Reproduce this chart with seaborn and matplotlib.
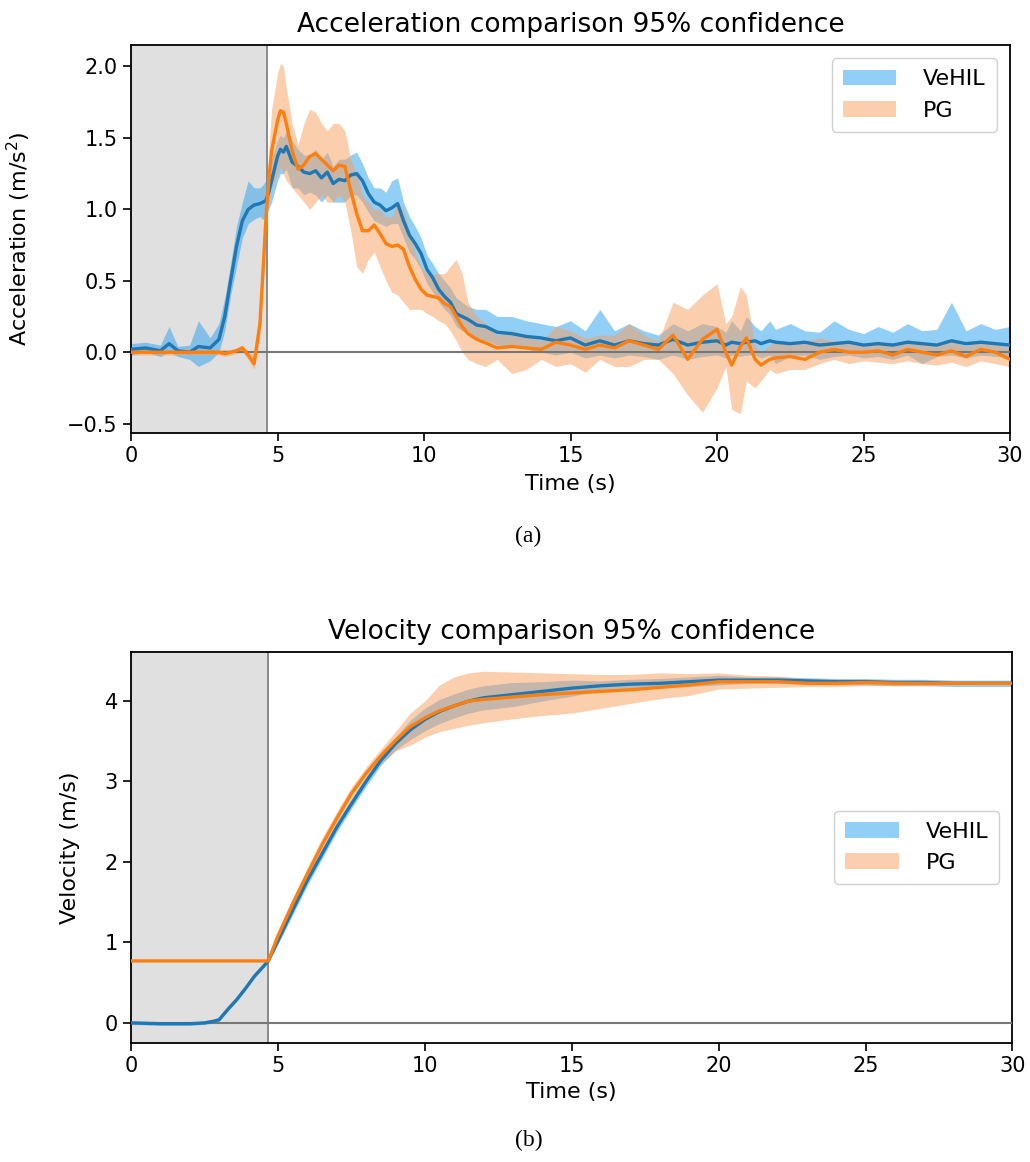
import numpy as np
import pandas as pd
import matplotlib
matplotlib.use("Agg")
import matplotlib.pyplot as plt
from matplotlib.patches import Patch
import seaborn as sns

# ---------------- Acceleration data ----------------
t_acc = [0, 0.5, 1.0, 1.3, 1.6, 2.0, 2.3, 2.7, 3.0, 3.2, 3.4, 3.6, 3.8, 4.0, 4.2, 4.4, 4.5, 4.6, 4.7, 4.8,
         5.0, 5.1, 5.2, 5.3, 5.5, 5.7, 5.9, 6.1, 6.3, 6.5, 6.7, 6.9, 7.1, 7.3, 7.5, 7.7, 7.9, 8.1, 8.3, 8.5,
         8.7, 8.9, 9.1, 9.3, 9.5, 9.7, 9.9, 10.1, 10.3, 10.5, 10.7, 10.9, 11.1, 11.3, 11.5, 11.8, 12.1, 12.5, 13.0, 13.5,
         14.0, 14.5, 15.0, 15.5, 16.0, 16.5, 17.0, 17.5, 18.0, 18.5, 19.0, 19.5, 20.0, 20.3, 20.5, 20.8, 21.0, 21.3, 21.5, 21.8,
         22.0, 22.5, 23.0, 23.5, 24.0, 24.5, 25.0, 25.5, 26.0, 26.5, 27.0, 27.5, 28.0, 28.5, 29.0, 29.5, 30.0]

acc_vehil = [0.02, 0.03, 0.01, 0.06, 0.01, 0.00, 0.04, 0.03, 0.09, 0.25, 0.50, 0.74, 0.92, 1.00, 1.03, 1.04, 1.05, 1.06, 1.12, 1.20,
             1.37, 1.42, 1.40, 1.44, 1.33, 1.30, 1.26, 1.25, 1.27, 1.22, 1.26, 1.18, 1.21, 1.20, 1.24, 1.25, 1.20, 1.11, 1.05, 1.03,
             0.99, 1.01, 1.04, 0.92, 0.82, 0.76, 0.69, 0.58, 0.52, 0.44, 0.39, 0.35, 0.27, 0.25, 0.23, 0.19, 0.18, 0.14, 0.13, 0.11,
             0.10, 0.08, 0.10, 0.05, 0.08, 0.05, 0.08, 0.06, 0.05, 0.09, 0.05, 0.07, 0.08, 0.05, 0.07, 0.06, 0.07, 0.08, 0.06, 0.08,
             0.07, 0.06, 0.07, 0.05, 0.06, 0.07, 0.05, 0.06, 0.05, 0.07, 0.06, 0.05, 0.08, 0.06, 0.07, 0.06, 0.05]
acc_vehil_lo = [-0.02, 0.00, -0.03, 0.00, -0.03, -0.05, -0.10, -0.06, 0.00, 0.15, 0.40, 0.60, 0.80, 0.90, 0.93, 0.95, 0.93, 0.95, 1.00, 1.05,
                1.20, 1.25, 1.25, 1.28, 1.15, 1.15, 1.10, 1.12, 1.10, 1.05, 1.10, 1.05, 1.05, 1.05, 1.10, 1.10, 1.05, 0.98, 0.92, 0.90,
                0.88, 0.90, 0.90, 0.80, 0.70, 0.65, 0.58, 0.48, 0.42, 0.35, 0.30, 0.26, 0.18, 0.15, 0.13, 0.10, 0.08, 0.05, 0.04, 0.02,
                0.00, -0.02, 0.00, -0.04, -0.02, -0.04, -0.02, -0.03, -0.05, -0.02, -0.05, -0.03, -0.02, -0.04, -0.02, -0.03, -0.02, -0.02, -0.04, -0.02,
                -0.08, -0.03, -0.02, -0.05, -0.03, -0.02, -0.04, -0.03, -0.05, -0.02, -0.08, -0.03, -0.02, -0.04, -0.02, -0.03, -0.04]
acc_vehil_hi = [0.06, 0.07, 0.05, 0.18, 0.04, 0.05, 0.22, 0.10, 0.20, 0.38, 0.62, 0.88, 1.05, 1.20, 1.15, 1.15, 1.17, 1.20, 1.25, 1.35,
                1.48, 1.52, 1.50, 1.55, 1.48, 1.42, 1.38, 1.38, 1.42, 1.35, 1.40, 1.30, 1.35, 1.35, 1.38, 1.40, 1.32, 1.22, 1.15, 1.15,
                1.12, 1.20, 1.22, 1.05, 0.95, 0.88, 0.80, 0.68, 0.62, 0.55, 0.50, 0.45, 0.38, 0.35, 0.32, 0.30, 0.30, 0.25, 0.25, 0.22,
                0.20, 0.18, 0.22, 0.15, 0.30, 0.15, 0.20, 0.15, 0.12, 0.20, 0.15, 0.20, 0.18, 0.14, 0.22, 0.15, 0.25, 0.18, 0.15, 0.22,
                0.16, 0.20, 0.15, 0.14, 0.22, 0.16, 0.13, 0.18, 0.14, 0.20, 0.15, 0.16, 0.35, 0.15, 0.20, 0.16, 0.18]

acc_pg = [0.00, 0.00, 0.00, 0.00, 0.00, 0.00, 0.00, 0.00, 0.00, -0.01, 0.00, 0.01, 0.03, -0.02, -0.08, 0.20, 0.55, 0.92, 1.20, 1.41,
          1.62, 1.69, 1.68, 1.60, 1.41, 1.28, 1.31, 1.37, 1.39, 1.35, 1.31, 1.27, 1.31, 1.30, 1.13, 0.97, 0.85, 0.85, 0.89, 0.83,
          0.76, 0.74, 0.75, 0.72, 0.60, 0.51, 0.44, 0.40, 0.39, 0.38, 0.34, 0.32, 0.25, 0.18, 0.13, 0.09, 0.065, 0.03, 0.04, 0.03,
          0.02, 0.07, 0.05, 0.02, 0.05, 0.03, 0.08, 0.05, 0.02, 0.12, -0.05, 0.09, 0.16, 0.00, -0.09, 0.04, 0.10, -0.05, -0.09, -0.05,
          -0.04, -0.03, -0.05, 0.00, 0.02, 0.00, 0.00, 0.01, -0.02, 0.02, 0.00, -0.02, 0.01, -0.03, 0.02, 0.00, -0.05]
acc_pg_lo = [-0.02, -0.02, -0.02, -0.02, -0.02, -0.02, -0.02, -0.02, -0.02, -0.03, -0.02, -0.01, 0.00, -0.05, -0.12, 0.10, 0.45, 0.80, 1.05, 1.15,
             1.25, 1.30, 1.25, 1.20, 1.15, 1.10, 1.05, 1.00, 1.05, 1.10, 1.05, 1.05, 1.10, 1.05, 0.85, 0.60, 0.55, 0.65, 0.70, 0.60,
             0.50, 0.42, 0.40, 0.35, 0.30, 0.30, 0.30, 0.27, 0.25, 0.22, 0.20, 0.15, 0.08, 0.00, -0.05, -0.08, -0.10, -0.05, -0.15, -0.12,
             -0.05, -0.10, -0.08, -0.14, -0.05, -0.10, -0.10, -0.05, -0.05, -0.15, -0.30, -0.42, -0.25, -0.10, -0.40, -0.43, -0.20, -0.25, -0.20, -0.12,
             -0.15, -0.12, -0.12, -0.08, -0.05, -0.08, -0.06, -0.07, -0.08, -0.06, -0.08, -0.09, -0.07, -0.10, -0.06, -0.08, -0.10]
acc_pg_hi = [0.02, 0.02, 0.02, 0.02, 0.02, 0.02, 0.02, 0.02, 0.02, 0.02, 0.02, 0.03, 0.05, 0.01, -0.02, 0.30, 0.70, 1.05, 1.40, 1.70,
             1.95, 2.02, 2.00, 1.85, 1.60, 1.45, 1.60, 1.70, 1.68, 1.60, 1.55, 1.60, 1.60, 1.55, 1.35, 1.25, 1.10, 1.05, 1.00, 1.00,
             0.95, 0.95, 1.05, 1.00, 0.85, 0.70, 0.60, 0.55, 0.55, 0.55, 0.55, 0.60, 0.65, 0.55, 0.35, 0.25, 0.20, 0.12, 0.15, 0.12,
             0.08, 0.18, 0.15, 0.10, 0.12, 0.12, 0.20, 0.12, 0.08, 0.35, 0.30, 0.40, 0.48, 0.20, 0.25, 0.46, 0.40, 0.05, 0.00, 0.05,
             0.07, 0.05, 0.08, 0.10, 0.08, 0.07, 0.06, 0.08, 0.05, 0.09, 0.06, 0.05, 0.08, 0.04, 0.09, 0.06, 0.03]

# ---------------- Velocity data ----------------
t_vel = [0, 1, 2, 2.5, 2.8, 3.0, 3.3, 3.6, 3.9, 4.2, 4.5, 4.67, 5.0, 5.5, 6.0, 6.5, 7.0, 7.5, 8.0, 8.5,
         9.0, 9.5, 10.0, 10.5, 11.0, 11.5, 12.0, 13, 14, 15, 16, 17, 18, 19, 20, 21, 22, 23, 24, 25,
         26, 27, 28, 29, 30]
vel_vehil = [0.00, -0.01, -0.01, 0.00, 0.02, 0.04, 0.17, 0.29, 0.43, 0.58, 0.70, 0.77, 1.02, 1.40, 1.77, 2.10, 2.43, 2.72, 3.00, 3.26,
             3.47, 3.64, 3.77, 3.87, 3.94, 4.00, 4.04, 4.08, 4.12, 4.16, 4.19, 4.21, 4.22, 4.24, 4.26, 4.26, 4.26, 4.25, 4.24, 4.24,
             4.23, 4.23, 4.22, 4.22, 4.22]
vel_vehil_lo = [-0.02, -0.03, -0.03, -0.02, 0.00, 0.02, 0.15, 0.27, 0.41, 0.56, 0.68, 0.75, 0.98, 1.34, 1.71, 2.04, 2.37, 2.66, 2.94, 3.20,
                3.39, 3.52, 3.63, 3.72, 3.79, 3.85, 3.89, 3.93, 4.00, 4.06, 4.13, 4.15, 4.16, 4.18, 4.20, 4.22, 4.22, 4.21, 4.20, 4.20,
                4.19, 4.19, 4.18, 4.18, 4.18]
vel_vehil_hi = [0.02, 0.01, 0.01, 0.02, 0.04, 0.06, 0.19, 0.31, 0.45, 0.60, 0.72, 0.79, 1.06, 1.46, 1.83, 2.16, 2.49, 2.78, 3.06, 3.32,
                3.55, 3.76, 3.91, 4.02, 4.09, 4.15, 4.19, 4.23, 4.24, 4.26, 4.25, 4.27, 4.28, 4.30, 4.32, 4.30, 4.30, 4.29, 4.28, 4.28,
                4.27, 4.27, 4.26, 4.26, 4.26]
vel_pg = [0.77, 0.77, 0.77, 0.77, 0.77, 0.77, 0.77, 0.77, 0.77, 0.77, 0.77, 0.77, 1.08, 1.48, 1.85, 2.21, 2.54, 2.85, 3.10, 3.32,
          3.51, 3.68, 3.79, 3.88, 3.94, 4.00, 4.02, 4.05, 4.08, 4.10, 4.12, 4.14, 4.17, 4.20, 4.24, 4.24, 4.24, 4.22, 4.22, 4.23,
          4.22, 4.22, 4.22, 4.22, 4.22]
vel_pg_lo = [0.77, 0.77, 0.77, 0.77, 0.77, 0.77, 0.77, 0.77, 0.77, 0.77, 0.77, 0.77, 1.03, 1.43, 1.80, 2.15, 2.48, 2.78, 3.02, 3.22,
             3.38, 3.45, 3.55, 3.62, 3.66, 3.70, 3.73, 3.78, 3.82, 3.85, 3.91, 3.97, 4.03, 4.07, 4.15, 4.16, 4.17, 4.18, 4.18, 4.19,
             4.19, 4.19, 4.20, 4.20, 4.20]
vel_pg_hi = [0.77, 0.77, 0.77, 0.77, 0.77, 0.77, 0.77, 0.77, 0.77, 0.77, 0.77, 0.77, 1.12, 1.55, 1.93, 2.30, 2.62, 2.93, 3.18, 3.40,
             3.62, 3.85, 4.00, 4.20, 4.30, 4.35, 4.37, 4.36, 4.35, 4.34, 4.33, 4.33, 4.35, 4.34, 4.35, 4.32, 4.31, 4.28, 4.27, 4.27,
             4.26, 4.25, 4.25, 4.24, 4.24]

series_names = ["VeHIL", "PG"]
warmup_end = 4.65

# ---------------- Styling ----------------
sns.set_style("ticks")
plt.rcParams["font.family"] = ["DejaVu Sans"]
plt.rcParams["text.color"] = "black"
plt.rcParams["axes.labelcolor"] = "black"
plt.rcParams["xtick.color"] = "black"
plt.rcParams["ytick.color"] = "black"

LINE_COLORS = {"VeHIL": "#1f77b4", "PG": "#ff7f0e"}
FILL_COLORS = {"VeHIL": "#27a0ee", "PG": "#f99f5d"}
FILL_ALPHA = 0.5

fig = plt.figure(figsize=(10.30, 11.62), dpi=100)
ax1 = fig.add_axes([0.1272, 0.6274, 0.8534, 0.3339])
ax2 = fig.add_axes([0.1272, 0.1024, 0.8558, 0.3369])


def draw_panel(ax, t, means, los, his, title, ylabel, ylim, yticks, legend_loc):
    ax.axvspan(0, warmup_end, color="#e0e0e0", zorder=0, lw=0)
    ax.axvline(warmup_end, color="#8a8a8a", lw=1.4, zorder=1)
    for name in series_names:
        ax.fill_between(t, los[name], his[name], color=FILL_COLORS[name], alpha=FILL_ALPHA,
                        lw=0, zorder=2)
    ax.axhline(0, color="#777777", lw=1.5, zorder=3)
    for name in series_names:
        df = pd.DataFrame({"t": t, "v": means[name]})
        sns.lineplot(data=df, x="t", y="v", ax=ax, color=LINE_COLORS[name], lw=2.4,
                     zorder=4, estimator=None, sort=False)
    ax.set_xlim(0, 30)
    ax.set_ylim(*ylim)
    ax.set_yticks(yticks)
    ax.set_xticks([0, 5, 10, 15, 20, 25, 30])
    ax.tick_params(labelsize=15, length=6, width=1.2, direction="out", colors="black")
    for sp in ax.spines.values():
        sp.set_linewidth(1.3)
        sp.set_color("black")
    ax.set_title(title, fontsize=19, pad=9, color="black")
    ax.set_xlabel("Time (s)", fontsize=16, color="black")
    ax.set_ylabel(ylabel, fontsize=16, color="black")
    handles = [Patch(facecolor=FILL_COLORS[n], alpha=FILL_ALPHA, edgecolor="none", label=n)
               for n in series_names]
    leg = ax.legend(handles=handles, loc=legend_loc, fontsize=16, handlelength=2.4,
                    handletextpad=1.2, borderpad=0.5, borderaxespad=0.6, framealpha=1,
                    edgecolor="#d0d0d0", fancybox=True)
    for txt in leg.get_texts():
        txt.set_color("black")


draw_panel(ax1, t_acc,
           {"VeHIL": acc_vehil, "PG": acc_pg},
           {"VeHIL": acc_vehil_lo, "PG": acc_pg_lo},
           {"VeHIL": acc_vehil_hi, "PG": acc_pg_hi},
           "Acceleration comparison 95% confidence", "Acceleration (m/s$^2$)",
           (-0.565, 2.15), [-0.5, 0.0, 0.5, 1.0, 1.5, 2.0], "upper right")
ax1.set_yticklabels(["\u22120.5", "0.0", "0.5", "1.0", "1.5", "2.0"])

draw_panel(ax2, t_vel,
           {"VeHIL": vel_vehil, "PG": vel_pg},
           {"VeHIL": vel_vehil_lo, "PG": vel_pg_lo},
           {"VeHIL": vel_vehil_hi, "PG": vel_pg_hi},
           "Velocity comparison 95% confidence", "Velocity (m/s)",
           (-0.25, 4.615), [0, 1, 2, 3, 4], "center right")

ax1.yaxis.set_label_coords(-0.111, 0.5)
ax2.yaxis.set_label_coords(-0.058, 0.5)
ax1.xaxis.set_label_coords(0.5, -0.105)
ax2.xaxis.set_label_coords(0.5, -0.10)

fig.text(0.513, 1 - 536 / 1162, "(a)", family=["Liberation Serif", "DejaVu Serif"], fontsize=17,
         ha="center", va="center", color="black")
fig.text(0.513, 1 - 1140 / 1162, "(b)", family=["Liberation Serif", "DejaVu Serif"], fontsize=17,
         ha="center", va="center", color="black")

fig.savefig("out.png", dpi=100, facecolor="white")
